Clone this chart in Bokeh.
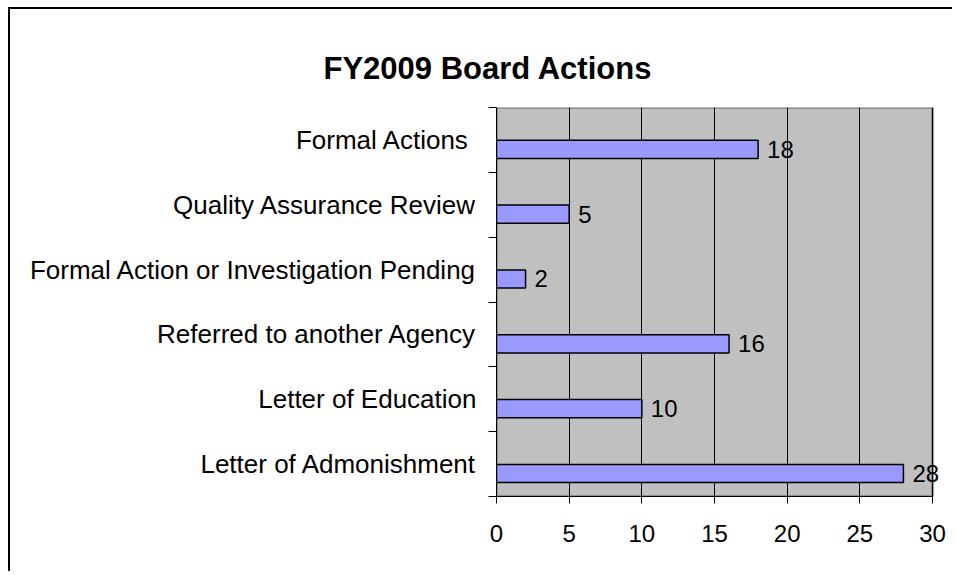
from bokeh.plotting import figure
from bokeh.models import Range1d, FixedTicker, ColumnDataSource, Label, Title
from bokeh.embed import file_html
from bokeh.resources import INLINE

# Data (bottom to top)
categories = ["Letter of Admonishment", "Letter of Education", "Referred to another Agency",
              "Formal Action or Investigation Pending", "Quality Assurance Review", "Formal Actions "]
values = [28, 10, 16, 2, 5, 18]
x_ticks = [0, 5, 10, 15, 20, 25, 30]
x_max = 30

FONT = "Liberation Sans"
n = len(categories)
centers = [i + 0.5 for i in range(n)]
bar_y = [c - 0.145 for c in centers]

# layout: 436px for the 0..30 axis; frame extended to the right so labels are not clipped
AXIS_PX = 436
BORDER_L = 486
WIDTH = 944
BORDER_R = 2
frame_px = WIDTH - BORDER_L - BORDER_R
x_end = x_max * frame_px / AXIS_PX

p = figure(width=WIDTH, height=564, output_backend="svg", toolbar_location=None,
           x_range=Range1d(0, x_end), y_range=Range1d(0, n),
           min_border_left=BORDER_L, min_border_right=BORDER_R, min_border_top=98, min_border_bottom=77)
p.styles = {"border-left": "2px solid black", "border-top": "2px solid black",
            "margin-left": "8px", "margin-top": "7px"}
p.title = None

title = Title(text="FY2009 Board Actions", align="left", offset=-173, vertical_align="top",
              text_font=FONT, text_font_size="31px", text_font_style="bold",
              text_color="black", standoff=40)
p.add_layout(title, "above")

p.background_fill_color = "white"
p.border_fill_color = "white"
p.outline_line_color = None

# plot area (grey) with grey top/right border
p.quad(left=[0], right=[x_max], bottom=[0], top=[n], fill_color="#C0C0C0",
       line_color="#808080", line_width=2.5, level="image")

src = ColumnDataSource(dict(y=bar_y, v=values))
p.hbar(y="y", right="v", left=0, height=0.28, source=src,
       fill_color="#9999FF", line_color="black", line_width=1.5)

for v, y in zip(values, bar_y):
    p.add_layout(Label(x=v, y=y, text=str(v), x_offset=9,
                       text_baseline="middle", text_align="left",
                       text_font=FONT, text_font_size="24px", text_color="black"))

# x axis
p.xaxis.ticker = FixedTicker(ticks=x_ticks)
p.xaxis.bounds = (0, x_max)
p.xaxis.major_tick_out = 7
p.xaxis.major_tick_in = 0
p.xaxis.minor_tick_out = 0
p.xaxis.minor_tick_in = 0
p.xaxis.axis_line_color = "black"
p.xaxis.major_tick_line_color = "black"
p.xaxis.major_label_text_font = FONT
p.xaxis.major_label_text_font_size = "24px"
p.xaxis.major_label_text_color = "black"
p.xaxis.major_label_standoff = 21

# y axis: labels at band centres, tick marks at band boundaries (minor ticks)
p.yaxis.ticker = FixedTicker(ticks=centers, minor_ticks=list(range(n + 1)))
p.yaxis.major_label_overrides = {c: cat for c, cat in zip(centers, categories)}
p.yaxis.major_tick_out = 0
p.yaxis.major_tick_in = 0
p.yaxis.minor_tick_out = 8
p.yaxis.minor_tick_in = 0
p.yaxis.minor_tick_line_color = "black"
p.yaxis.axis_line_color = "black"
p.yaxis.major_label_text_font = FONT
p.yaxis.major_label_text_font_size = "26px"
p.yaxis.major_label_text_color = "black"
p.yaxis.major_label_standoff = 12

p.xgrid.grid_line_color = "black"
p.xgrid.grid_line_width = 1
p.xgrid.bounds = (0, n)
p.ygrid.grid_line_color = None

open("out.html", "w").write(file_html(p, INLINE))
